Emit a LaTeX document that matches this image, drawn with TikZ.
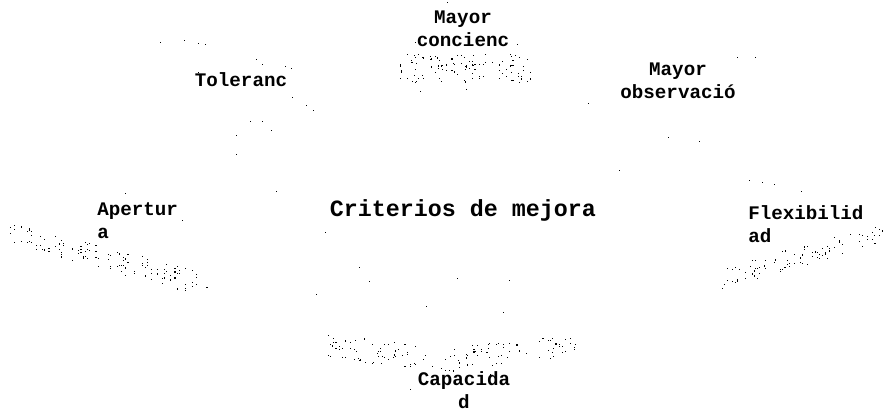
\documentclass[tikz,border=0pt]{standalone}
\usepackage{fontspec}
\newfontfamily\typew{Liberation Mono}
\usepackage{tikz}

% scattered speckles in a slanted band: x0, y0, width, height, slope, count
\newcommand{\speckle}[6]{%
  \foreach \k in {1,...,#6} {%
    \pgfmathsetmacro{\hx}{mod(mod(\k*mod(\k+#1,97),97)*17+\k*31,97)/96}%
    \pgfmathsetmacro{\hy}{mod(mod(\k*mod(\k+#2,89),89)*23+\k*13,89)/88}%
    \pgfmathsetmacro{\sx}{#1+#3*\hx}%
    \pgfmathsetmacro{\sy}{#2+#5*(\sx-#1)+#4*\hy}%
    \fill (\sx,\sy) rectangle ++(1.1,1.1);%
  }%
}

\tikzset{
  crit label/.style={inner sep=0.75pt, font=\typew\bfseries\fontsize{14.4}{17.3}\selectfont},
  crit main/.style={inner sep=0.75pt, font=\typew\bfseries\fontsize{17.5}{21}\selectfont}
}

\begin{document}
\begin{tikzpicture}[x=0.75pt,y=0.75pt,yscale=-1,xscale=1]
\useasboundingbox (0,0) rectangle (884,413);

%Shape: speckles under Mayor concienc
\speckle{400}{54}{130}{28}{0}{110}
%Shape: speckles under Apertura
\speckle{10}{220}{205}{24}{0.27}{130}
%Shape: speckles under Flexibilidad
\speckle{722}{268}{160}{20}{-0.28}{90}
%Shape: speckles above Capacidad
\speckle{325}{330}{125}{26}{0.14}{65}
\speckle{450}{347}{125}{24}{-0.1}{65}

%Shape: loose dots
\foreach \p in {(160,42),(184,40),(198,43),(205,44),(256,59),(262,64),(285,66),(291,68),(198,72),
  (292,97),(306,105),(313,110),(250,121),(262,121),(271,130),(236,135),(236,154),
  (447,2),(415,42),(517,44),(420,91),(466,89),(737,57),(755,57),(588,103),(668,137),(699,141),
  (619,170),(749,180),(762,182),(774,184),(801,191),(125,193),(276,191),(182,220),
  (325,232),(359,267),(369,281),(316,294),(426,306),(457,278),(509,280),(503,312),(490,374),(410,389)}
  \fill \p rectangle ++(1.1,1.1);

% Text Node
\node [crit main] (crit) at (463,210) {Criterios de mejora};
% Text Node
\node [crit label, align=center] (concien) at (463,29) {Mayor\\concienc};
% Text Node
\node [crit label] (toler) at (241,80) {Toleranc};
% Text Node
\node [crit label, align=center] (observ) at (678,81) {Mayor\\observació};
% Text Node
\node [crit label, align=left, anchor=west] (apert) at (96,221) {Apertur\\a};
% Text Node
\node [crit label, align=left, anchor=west] (flex) at (747,224) {Flexibilid\\ad};
% Text Node
\node [crit label, align=center] (capac) at (464,390) {Capacida\\d};

\end{tikzpicture}
\end{document}
